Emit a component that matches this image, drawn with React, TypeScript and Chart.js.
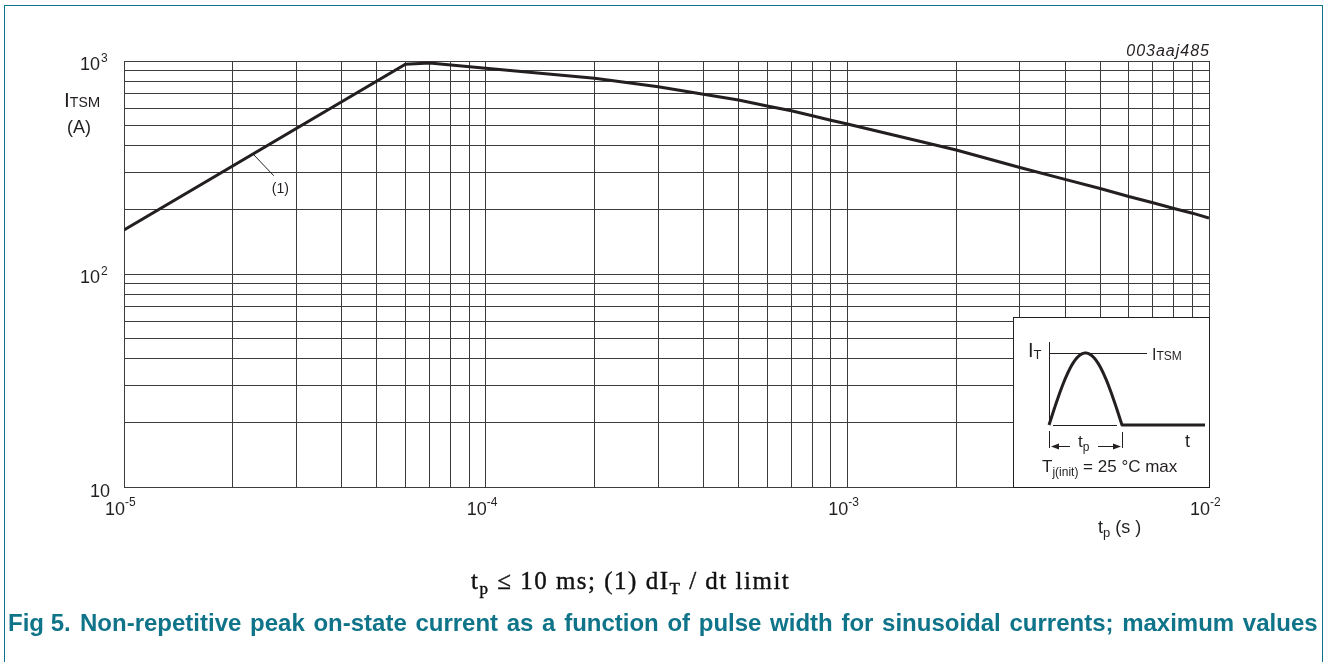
import React, { useEffect, useRef } from "react";
import { Chart, registerables } from "chart.js";

Chart.register(...registerables);

// ---- data ----
const pulseWidthS = [
  1e-5, 6e-5, 7e-5, 1e-4, 2e-4, 3e-4, 4e-4, 5e-4, 6e-4, 7e-4, 8e-4, 9e-4,
  1e-3, 2e-3, 3e-3, 4e-3, 5e-3, 6e-3, 7e-3, 8e-3, 9e-3, 1e-2,
];
const itsmA = [
  161, 965, 978, 924, 829, 757, 698, 656, 615, 584, 553, 527,
  506, 382, 316, 278, 252, 231, 216, 203, 193, 183,
];
const xDecadeExponents = [-5, -4, -3, -2];
const yDecadeExponents = [1, 2, 3];
const gridMultipliers = [1, 2, 3, 4, 5, 6, 7, 8, 9];
const yTickLabels = [
  { value: 10, base: "10", exp: "" },
  { value: 100, base: "10", exp: "2" },
  { value: 1000, base: "10", exp: "3" },
];
const xTickLabels = [
  { value: 1e-5, base: "10", exp: "-5" },
  { value: 1e-4, base: "10", exp: "-4" },
  { value: 1e-3, base: "10", exp: "-3" },
  { value: 1e-2, base: "10", exp: "-2" },
];
const curveLabel = { text: "(1)", t: 2.27e-5, i: 367 };
const figureCode = "003aaj485";

const SANS = '"Liberation Sans", Arial, Helvetica, sans-serif';
const SERIF = '"Liberation Serif", "Times New Roman", serif';
const INK = "#231f20";
const GRID = "#3c3c3c";
const TEAL = "#0f7489";

function decadeTicks(exps: number[]) {
  const out: number[] = [];
  for (let i = 0; i < exps.length - 1; i++) {
    for (const m of gridMultipliers) out.push(m * Math.pow(10, exps[i]));
  }
  out.push(Math.pow(10, exps[exps.length - 1]));
  return out;
}

function seq(ctx: CanvasRenderingContext2D, x: number, y: number, parts: [string, number, number][]) {
  let cx = x;
  for (const [t, size, dy] of parts) {
    ctx.font = `${size}px ${SANS}`;
    ctx.fillText(t, cx, y + dy);
    cx += ctx.measureText(t).width;
  }
  return cx;
}

const overlay = {
  id: "overlay",
  afterDraw(chart: any) {
    const ctx: CanvasRenderingContext2D = chart.ctx;
    const xs = chart.scales.x;
    const ys = chart.scales.y;
    const ca = chart.chartArea;
    ctx.save();
    ctx.fillStyle = INK;
    ctx.strokeStyle = INK;
    ctx.textBaseline = "alphabetic";

    // x tick labels
    for (const t of xTickLabels) {
      const px = xs.getPixelForValue(t.value);
      ctx.font = `18px ${SANS}`;
      ctx.textAlign = "right";
      ctx.fillText(t.base, px + 1, ca.bottom + 28);
      ctx.font = `12px ${SANS}`;
      ctx.textAlign = "left";
      ctx.fillText(t.exp, px + 1, ca.bottom + 19);
    }
    // y tick labels
    for (const t of yTickLabels) {
      const py = ys.getPixelForValue(t.value);
      ctx.font = `18px ${SANS}`;
      ctx.textAlign = "right";
      if (t.exp) {
        ctx.fillText(t.base, ca.left - 24, py + 9);
        ctx.font = `12px ${SANS}`;
        ctx.textAlign = "left";
        ctx.fillText(t.exp, ca.left - 23, py + 1);
      } else {
        ctx.fillText(t.base, ca.left - 14, py + 10);
      }
    }
    ctx.textAlign = "left";

    // y title
    seq(ctx, ca.left - 60, ca.top + 46, [["I", 21, 0], ["TS", 14, 0], ["M", 15, 0]]);
    ctx.font = `18px ${SANS}`;
    ctx.fillText("(A)", ca.left - 57, ca.top + 72);

    // x title
    seq(ctx, ca.right - 111, ca.bottom + 46, [["t", 18, 0], ["p", 13, 4], [" (s )", 18, 0]]);

    // figure code
    ctx.font = `italic 16px ${SANS}`;
    ctx.textAlign = "right";
    (ctx as any).letterSpacing = "1px";
    ctx.fillText(figureCode, ca.right + 1, ca.top - 5);
    (ctx as any).letterSpacing = "0px";
    ctx.textAlign = "left";

    // curve label with leader
    const lx = xs.getPixelForValue(curveLabel.t);
    const ly = ys.getPixelForValue(curveLabel.i);
    ctx.lineWidth = 1;
    ctx.beginPath();
    ctx.moveTo(lx, ly);
    ctx.lineTo(lx + 21, ly + 22);
    ctx.stroke();
    ctx.font = `14px ${SANS}`;
    ctx.fillText(curveLabel.text, lx + 19, ly + 39);

    // inset
    const R = ca.right;
    const B = ca.bottom;
    ctx.fillStyle = "#ffffff";
    ctx.fillRect(R - 196, B - 170, 196, 170);
    ctx.lineWidth = 1;
    ctx.strokeStyle = INK;
    ctx.strokeRect(R - 196 + 0.5, B - 170 + 0.5, 196, 170);
    ctx.fillStyle = INK;

    const ax = R - 160;
    const bx = R - 87;
    const base = B - 62;
    const peak = B - 134;
    ctx.lineWidth = 1;
    ctx.beginPath();
    ctx.moveTo(ax + 0.5, B - 145);
    ctx.lineTo(ax + 0.5, base);
    ctx.moveTo(ax, peak + 0.5);
    ctx.lineTo(R - 62, peak + 0.5);
    ctx.moveTo(ax + 4, base + 0.5);
    ctx.lineTo(bx - 5, base + 0.5);
    ctx.moveTo(ax + 0.5, base + 6);
    ctx.lineTo(ax + 0.5, base + 23);
    ctx.moveTo(bx + 0.5, base + 7);
    ctx.lineTo(bx + 0.5, base + 23);
    const ay = base + 21.5;
    ctx.moveTo(ax + 3, ay);
    ctx.lineTo(ax + 21, ay);
    ctx.moveTo(bx - 24, ay);
    ctx.lineTo(bx - 2, ay);
    ctx.stroke();
    ctx.beginPath();
    ctx.moveTo(ax + 2, ay);
    ctx.lineTo(ax + 10, ay - 3);
    ctx.lineTo(ax + 10, ay + 3);
    ctx.closePath();
    ctx.moveTo(bx - 1, ay);
    ctx.lineTo(bx - 9, ay - 3);
    ctx.lineTo(bx - 9, ay + 3);
    ctx.closePath();
    ctx.fill();

    ctx.lineWidth = 3;
    ctx.lineJoin = "round";
    ctx.beginPath();
    for (let k = 0; k <= 60; k++) {
      const f = k / 60;
      const x = ax + f * (bx - ax);
      const y = base - (base - peak) * Math.sin(Math.PI * f);
      if (k === 0) ctx.moveTo(x, y);
      else ctx.lineTo(x, y);
    }
    ctx.lineTo(R - 4, base);
    ctx.stroke();

    seq(ctx, R - 181, B - 130, [["I", 20, 0], ["T", 13, 2]]);
    seq(ctx, R - 57, B - 127, [["I", 16, 0], ["TSM", 12, 0]]);
    seq(ctx, ax + 29, base + 22, [["t", 17, 0], ["p", 12, 4]]);
    ctx.font = `18px ${SANS}`;
    ctx.fillText("t", R - 24, base + 22);
    seq(ctx, R - 167, B - 15, [["T", 17, 0], ["j(init)", 12, 4], [" = 25 °C max", 17, 0]]);

    ctx.restore();
  },
};

export default function App() {
  const ref = useRef<HTMLCanvasElement | null>(null);

  useEffect(() => {
    if (!ref.current) return;
    const xTicks = decadeTicks(xDecadeExponents);
    const yTicks = decadeTicks(yDecadeExponents);
    const chart = new Chart(ref.current, {
      type: "line",
      data: {
        datasets: [
          {
            data: pulseWidthS.map((t, i) => ({ x: t, y: itsmA[i] })),
            borderColor: INK,
            borderWidth: 3,
            pointRadius: 0,
            tension: 0,
            fill: false,
          },
        ],
      },
      options: {
        animation: false,
        responsive: false,
        devicePixelRatio: 1,
        layout: { padding: { left: 124, top: 61, right: 118, bottom: 175 } },
        plugins: { legend: { display: false }, tooltip: { enabled: false } },
        scales: {
          x: {
            type: "logarithmic",
            min: 1e-5,
            max: 1e-2,
            afterBuildTicks: (s: any) => {
              s.ticks = xTicks.map((v) => ({ value: v }));
            },
            ticks: { display: false },
            grid: { color: GRID, lineWidth: 1, drawTicks: false },
            border: { display: true, color: GRID, width: 1 },
          },
          y: {
            type: "logarithmic",
            min: 10,
            max: 1000,
            afterBuildTicks: (s: any) => {
              s.ticks = yTicks.map((v) => ({ value: v }));
            },
            ticks: { display: false },
            grid: { color: GRID, lineWidth: 1, drawTicks: false },
            border: { display: true, color: GRID, width: 1 },
          },
        },
      },
      plugins: [overlay],
    } as any);
    return () => chart.destroy();
  }, []);

  const sub = { fontSize: 17, verticalAlign: -5 } as const;

  return (
    <div style={{ position: "absolute", left: 0, top: 0, width: 1327, height: 662, background: "#fff", overflow: "hidden" }}>
      <div
        style={{
          position: "absolute",
          left: 4,
          top: 5,
          width: 1319,
          height: 800,
          border: `1.5px solid ${TEAL}`,
          boxSizing: "border-box",
        }}
      />
      <canvas ref={ref} width={1327} height={662} style={{ position: "absolute", left: 0, top: 0, display: "block" }} />
      <div
        style={{
          position: "absolute",
          left: 471,
          top: 566,
          fontFamily: SERIF,
          fontSize: 25,
          letterSpacing: "1.5px",
          WebkitTextStroke: "0.4px #111",
          color: "#111",
          whiteSpace: "nowrap",
          lineHeight: "30px",
        }}
      >
        t<sub style={sub}>p</sub> ≤ 10 ms; (1) dI<sub style={sub}>T</sub> / dt limit
      </div>
      <div
        style={{
          position: "absolute",
          left: 8,
          top: 609,
          fontFamily: SANS,
          fontWeight: "bold",
          fontSize: 24,
          color: TEAL,
          whiteSpace: "nowrap",
          lineHeight: "28px",
        }}
      >
        <span style={{ display: "inline-block", width: 72 }}>Fig 5.</span>
        <span style={{ wordSpacing: "2px" }}>
          Non-repetitive peak on-state current as a function of pulse width for sinusoidal currents; maximum values
        </span>
      </div>
    </div>
  );
}
